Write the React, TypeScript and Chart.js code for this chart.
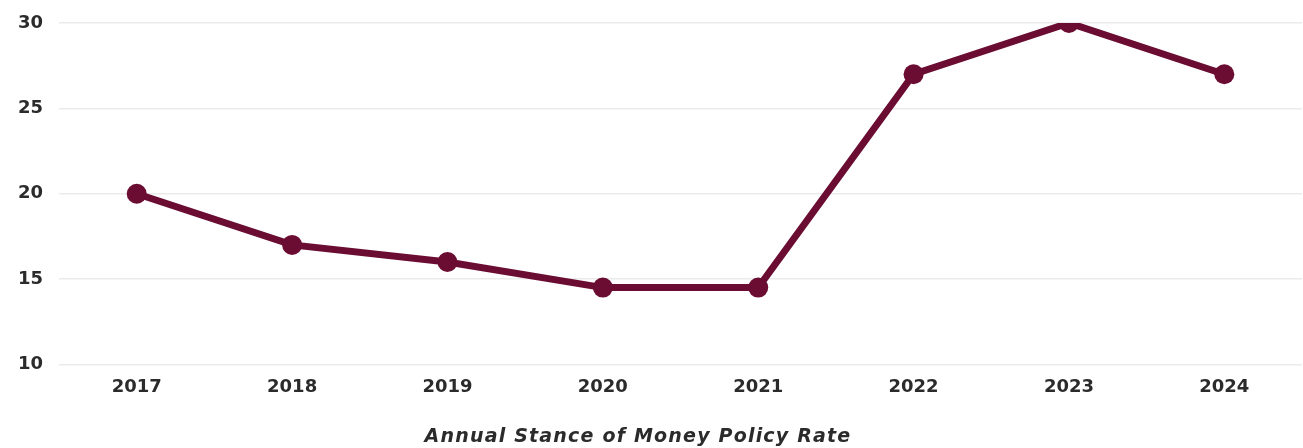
import React, { useEffect, useRef } from "react";
import { Chart, registerables } from "chart.js";

Chart.register(...registerables);

const years = ["2017", "2018", "2019", "2020", "2021", "2022", "2023", "2024"];
const policyRate = [20, 17, 16, 14.5, 14.5, 27, 30, 27];
const yTicks = [10, 15, 20, 25, 30];
const axisTitle = "Annual Stance of Money Policy Rate";

const LINE_COLOR = "#6b0c32";
const TEXT_COLOR = "#2b2b2b";
const TICK_FONT = "'DejaVu Sans', sans-serif";

const bottomTitle = {
  id: "bottomTitle",
  afterDraw(chart: any) {
    const { ctx } = chart;
    ctx.save();
    ctx.font = "italic bold 19px 'DejaVu Sans', sans-serif";
    try { (ctx as any).letterSpacing = "1.2px"; } catch (e) {}
    ctx.fillStyle = TEXT_COLOR;
    ctx.textAlign = "center";
    ctx.textBaseline = "middle";
    ctx.fillText(axisTitle, 638, 437);
    ctx.restore();
  },
};

export default function App() {
  const ref = useRef<HTMLCanvasElement | null>(null);
  useEffect(() => {
    if (!ref.current) return;
    const chart = new Chart(ref.current, {
      type: "line",
      data: {
        labels: years,
        datasets: [
          {
            label: axisTitle,
            data: policyRate,
            borderColor: LINE_COLOR,
            backgroundColor: LINE_COLOR,
            borderWidth: 7,
            pointRadius: 10,
            pointBackgroundColor: LINE_COLOR,
            pointBorderWidth: 0,
            tension: 0,
          },
        ],
      },
      options: {
        animation: false,
        responsive: false,
        layout: { padding: { top: 23, right: 0, bottom: 38, left: 2 } },
        plugins: {
          legend: { display: false },
          tooltip: { enabled: false },
          title: { display: false },
        },
        scales: {
          x: {
            offset: true,
            afterFit: (axis: any) => {
              axis.paddingLeft = 0;
              axis.paddingRight = 0;
            },
            grid: { display: false, drawTicks: false },
            border: { display: false },
            ticks: {
              color: TEXT_COLOR,
              padding: 12,
              font: { family: TICK_FONT, size: 18, weight: "bold" },
            },
          },
          y: {
            min: 10,
            max: 30,
            afterBuildTicks: (axis: any) => {
              axis.ticks = yTicks.map((v) => ({ value: v }));
            },
            afterFit: (axis: any) => {
              axis.paddingTop = 0;
              axis.paddingBottom = 0;
            },
            grid: { color: "#ebebeb", lineWidth: 1.5, drawTicks: false },
            border: { display: false },
            ticks: {
              color: TEXT_COLOR,
              padding: 16,
              font: { family: TICK_FONT, size: 18, weight: "bold" },
            },
          },
        },
      },
      plugins: [bottomTitle],
    });
    return () => chart.destroy();
  }, []);
  return (
    <div style={{ position: "absolute", left: 0, top: 0, width: 1303, height: 448, background: "#fff", overflow: "hidden" }}>
      <canvas ref={ref} width={1312} height={448} style={{ display: "block" }} />
    </div>
  );
}
